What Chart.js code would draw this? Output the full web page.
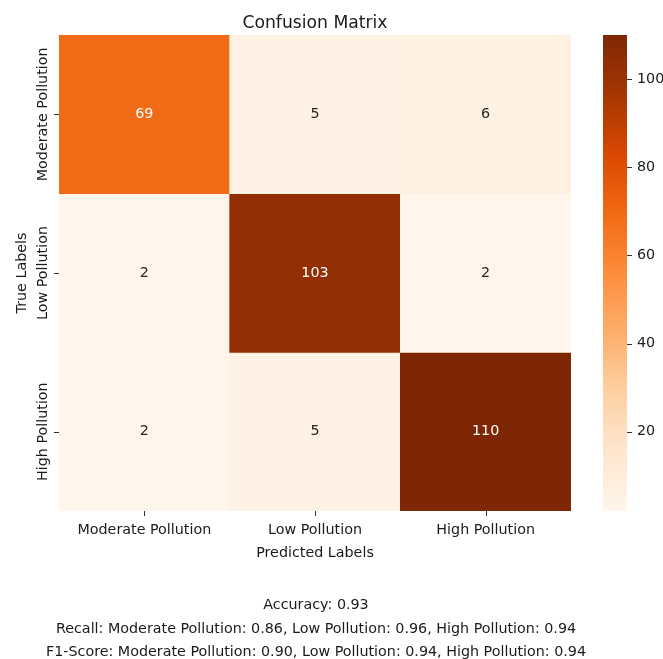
<!DOCTYPE html>
<html>
<head>
<meta charset="utf-8">
<title>Confusion Matrix</title>
<script src="https://cdn.jsdelivr.net/npm/chart.js@4.4.1/dist/chart.umd.min.js"></script>
<style>
  html, body { margin: 0; padding: 0; background: #ffffff; }
  #wrap { position: relative; width: 663px; height: 659px; }
  canvas { display: block; }
</style>
</head>
<body>
<div id="wrap"><canvas id="cm" width="663" height="659"></canvas></div>
<script>
// ---- data ----
const predictedLabels = ['Moderate Pollution', 'Low Pollution', 'High Pollution'];
const trueLabels = ['Moderate Pollution', 'Low Pollution', 'High Pollution'];
const rowModerate = [69, 5, 6];
const rowLow = [2, 103, 2];
const rowHigh = [2, 5, 110];
const colorbarTicks = [20, 40, 60, 80, 100];
const accuracy = 0.93;
const recallScores = [0.86, 0.96, 0.94];
const f1Scores = [0.90, 0.94, 0.94];

// ---- colour map (sequential oranges) ----
const ORANGES = [
  [255, 245, 235], [254, 230, 206], [253, 208, 162], [253, 174, 107],
  [253, 141, 60], [241, 105, 19], [217, 72, 1], [166, 54, 3], [127, 39, 4]
];
const rows = [rowModerate, rowLow, rowHigh];
const allCounts = rows.flat();
const vMin = Math.min(...allCounts);
const vMax = Math.max(...allCounts);

function orangeRGB(v) {
  const t = Math.min(1, Math.max(0, (v - vMin) / (vMax - vMin)));
  const s = t * (ORANGES.length - 1);
  const i = Math.min(Math.floor(s), ORANGES.length - 2);
  const f = s - i;
  return ORANGES[i].map((c, k) => c + (ORANGES[i + 1][k] - c) * f);
}
function cellColor(v) {
  const [r, g, b] = orangeRGB(v).map(Math.round);
  return `rgb(${r},${g},${b})`;
}
function annotColor(v) {
  const lin = orangeRGB(v).map(c => {
    c /= 255;
    return c <= 0.03928 ? c / 12.92 : Math.pow((c + 0.055) / 1.055, 2.4);
  });
  const lum = 0.2126 * lin[0] + 0.7152 * lin[1] + 0.0722 * lin[2];
  return lum > 0.408 ? '#262626' : '#ffffff';
}

const FONT = '"DejaVu Sans", Verdana, sans-serif';
const INK = '#1a1a1a';
const BODY = 14.3;

// ---- labels, annotations and colour bar ----
const decor = {
  id: 'decor',
  afterDraw(chart) {
    const { ctx, chartArea: a, scales } = chart;
    const { x, y, cb } = scales;
    ctx.save();

    // cell counts
    ctx.font = `${BODY}px ${FONT}`;
    ctx.textAlign = 'center';
    ctx.textBaseline = 'middle';
    chart.data.datasets.forEach((ds, r) => {
      chart.getDatasetMeta(r).data.forEach((bar, c) => {
        const p = bar.getCenterPoint();
        ctx.fillStyle = annotColor(ds.counts[c]);
        ctx.fillText(String(ds.counts[c]), p.x, p.y);
      });
    });

    // title
    const cx = (a.left + a.right) / 2;
    ctx.fillStyle = INK;
    ctx.textBaseline = 'alphabetic';
    ctx.font = `17.2px ${FONT}`;
    ctx.fillText('Confusion Matrix', cx, a.top - 7);

    // x ticks
    ctx.strokeStyle = '#333333';
    ctx.lineWidth = 1;
    ctx.font = `${BODY}px ${FONT}`;
    predictedLabels.forEach((lab, i) => {
      const px = Math.round(x.getPixelForTick(i)) + 0.5;
      ctx.beginPath();
      ctx.moveTo(px, a.bottom);
      ctx.lineTo(px, a.bottom + 5);
      ctx.stroke();
      ctx.fillText(lab, x.getPixelForTick(i), a.bottom + 23);
    });
    ctx.fillText('Predicted Labels', cx, a.bottom + 46);

    // y ticks (rotated labels)
    trueLabels.forEach((lab, r) => {
      const py = y.getPixelForValue(r + 0.5);
      const ly = Math.round(py) + 0.5;
      ctx.beginPath();
      ctx.moveTo(a.left - 5, ly);
      ctx.lineTo(a.left, ly);
      ctx.stroke();
      ctx.save();
      ctx.translate(a.left - 12.3, py);
      ctx.rotate(-Math.PI / 2);
      ctx.fillText(lab, 0, 0);
      ctx.restore();
    });
    ctx.save();
    ctx.translate(a.left - 33, y.getPixelForValue(1.5));
    ctx.rotate(-Math.PI / 2);
    ctx.fillText('True Labels', 0, 0);
    ctx.restore();

    // colour bar
    const bx = a.right + 32, bw = 24;
    const yLo = cb.getPixelForValue(cb.min);
    const yHi = cb.getPixelForValue(cb.max);
    const grad = ctx.createLinearGradient(0, yLo, 0, yHi);
    ORANGES.forEach((c, i) => grad.addColorStop(i / (ORANGES.length - 1), `rgb(${c[0]},${c[1]},${c[2]})`));
    ctx.fillStyle = grad;
    ctx.fillRect(bx, yHi, bw, yLo - yHi);
    ctx.fillStyle = INK;
    ctx.textAlign = 'left';
    ctx.textBaseline = 'middle';
    colorbarTicks.forEach(v => {
      const py = cb.getPixelForValue(v);
      const ly = Math.round(py) + 0.5;
      ctx.beginPath();
      ctx.moveTo(bx + bw, ly);
      ctx.lineTo(bx + bw + 5, ly);
      ctx.stroke();
      ctx.fillText(String(v), bx + bw + 10, py);
    });

    // summary metrics
    ctx.textAlign = 'center';
    ctx.textBaseline = 'alphabetic';
    const fmt = vals => trueLabels.map((l, i) => `${l}: ${vals[i].toFixed(2)}`).join(', ');
    const lines = [
      `Accuracy: ${accuracy.toFixed(2)}`,
      `Recall: ${fmt(recallScores)}`,
      `F1-Score: ${fmt(f1Scores)}`
    ];
    lines.forEach((t, i) => ctx.fillText(t, cx + 1, 609 + i * 23.5));

    ctx.restore();
  }
};

// ---- heatmap: one stacked row of unit cells per true label ----
const datasets = rows.map((counts, r) => ({
  label: trueLabels[r],
  data: counts.map(() => 1),
  counts,
  backgroundColor: counts.map(cellColor),
  borderWidth: 0,
  barPercentage: 1,
  categoryPercentage: 1
}));

new Chart(document.getElementById('cm'), {
  type: 'bar',
  data: { labels: predictedLabels, datasets },
  options: {
    responsive: false,
    animation: false,
    events: [],
    layout: { padding: { left: 59, top: 35, right: 92, bottom: 148 } },
    plugins: {
      legend: { display: false },
      tooltip: { enabled: false },
      title: { display: false }
    },
    scales: {
      x: { type: 'category', stacked: true, offset: true, display: false },
      y: { type: 'linear', stacked: true, min: 0, max: rows.length, reverse: true, display: false },
      cb: { type: 'linear', position: 'right', min: vMin, max: vMax, display: false }
    }
  },
  plugins: [decor]
});
</script>
</body>
</html>
